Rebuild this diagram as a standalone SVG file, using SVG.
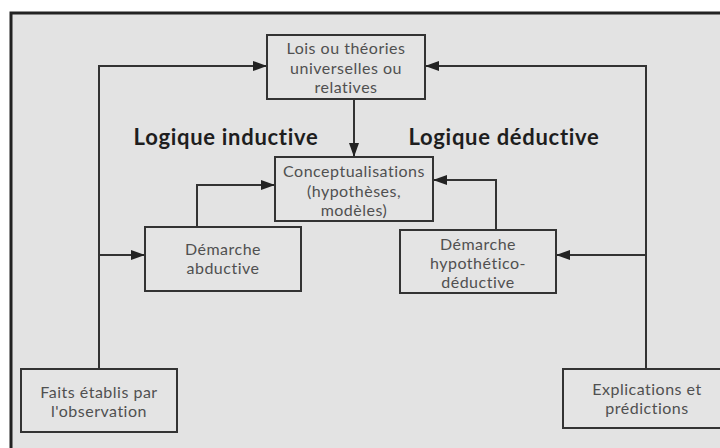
<svg xmlns="http://www.w3.org/2000/svg" width="720" height="448" viewBox="0 0 720 448">
<style>
.box{fill:#e4e4e4;stroke:#333;stroke-width:2}
.t{font-family:Lato,"Liberation Sans",sans-serif;font-size:16px;letter-spacing:0.5px;fill:#505050;text-anchor:middle}
.h{font-family:Lato,"Liberation Sans",sans-serif;font-size:22px;letter-spacing:0.7px;font-weight:bold;fill:#1e1e1e;text-anchor:middle}
.c{fill:none;stroke:#333;stroke-width:2}
</style>
<defs>
<marker id="ah" markerUnits="userSpaceOnUse" markerWidth="14" markerHeight="10" refX="13" refY="5" orient="auto">
<path d="M0,0 L14,5 L0,10 Z" fill="#222"/>
</marker>
</defs>
<rect x="0" y="0" width="720" height="448" fill="#fff"/>
<rect x="11" y="13" width="720" height="440" fill="#e3e3e3"/>
<path d="M11,450 V13 H720" fill="none" stroke="#222" stroke-width="3"/>
<g id="connectors">
<path class="c" d="M99,369 V66 H266" marker-end="url(#ah)"/>
<path class="c" d="M99,255 H144" marker-end="url(#ah)"/>
<path class="c" d="M646,369 V66 H426" marker-end="url(#ah)"/>
<path class="c" d="M646,255 H557" marker-end="url(#ah)"/>
<path class="c" d="M354,99 V156" marker-end="url(#ah)"/>
<path class="c" d="M197,227 V185 H274" marker-end="url(#ah)"/>
<path class="c" d="M496,230 V180 H434" marker-end="url(#ah)"/>
</g>
<g id="lois">
<rect class="box" x="267" y="35" width="158" height="64"/>
<text class="t" x="346" y="54">Lois ou théories</text>
<text class="t" x="346" y="74">universelles ou</text>
<text class="t" x="346" y="93">relatives</text>
</g>
<g id="label-inductive"><text class="h" x="226" y="145">Logique inductive</text></g>
<g id="label-deductive"><text class="h" x="504" y="145">Logique déductive</text></g>
<g id="conceptualisations">
<rect class="box" x="275" y="157" width="158" height="64"/>
<text class="t" x="354" y="177">Conceptualisations</text>
<text class="t" x="354" y="197">(hypothèses,</text>
<text class="t" x="354" y="216">modèles)</text>
</g>
<g id="abductive">
<rect class="box" x="145" y="227" width="156" height="64"/>
<text class="t" x="223" y="255">Démarche</text>
<text class="t" x="223" y="274">abductive</text>
</g>
<g id="hypothetico">
<rect class="box" x="400" y="230" width="156" height="63"/>
<text class="t" x="478" y="250">Démarche</text>
<text class="t" x="478" y="269">hypothético-</text>
<text class="t" x="478" y="288">déductive</text>
</g>
<g id="faits">
<rect class="box" x="21" y="369" width="156" height="63"/>
<text class="t" x="99" y="398">Faits établis par</text>
<text class="t" x="99" y="417">l'observation</text>
</g>
<g id="explications">
<rect class="box" x="563" y="369" width="168" height="59"/>
<text class="t" x="647" y="395">Explications et</text>
<text class="t" x="647" y="414">prédictions</text>
</g>
</svg>
